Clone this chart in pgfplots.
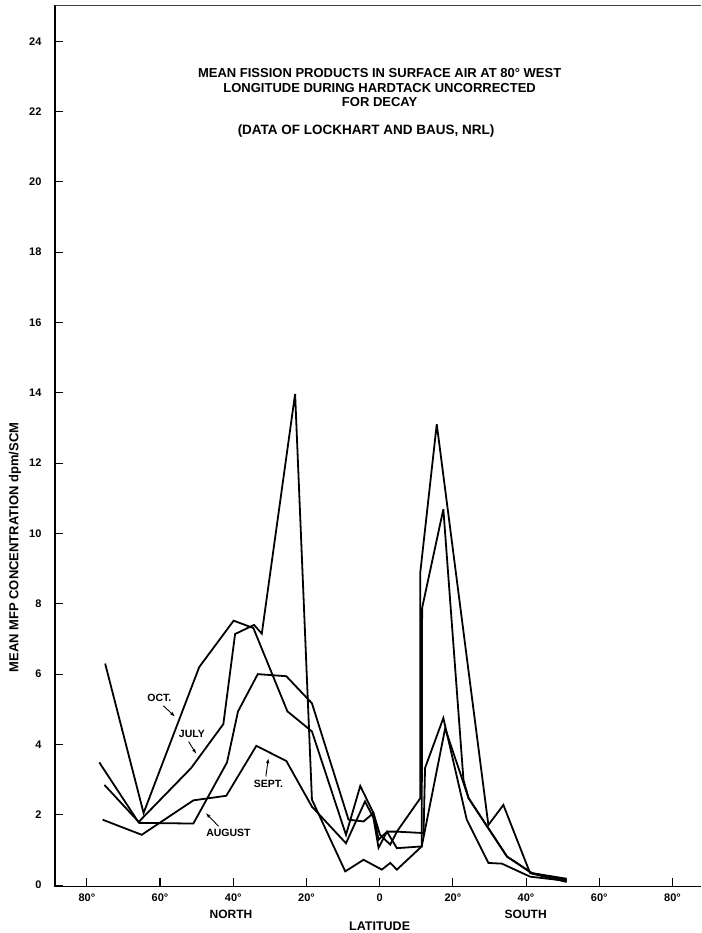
\documentclass[border=0pt]{standalone}
\usepackage{fontspec}
\setmainfont{Liberation Sans}
\usepackage{pgfplots}
\pgfplotsset{compat=1.18}
\usetikzlibrary{arrows.meta}
\tikzset{curve/.style={black, line width=1.8pt, mark=none, line join=miter, miter limit=6}}

\begin{document}
\begin{tikzpicture}
\begin{axis}[
  at={(0,0)}, anchor=south west,
  scale only axis, width=646pt, height=881.5pt,
  xmin=-88.7, xmax=87.8, ymin=-0.04, ymax=25.03,
  axis x line*=bottom, axis y line*=left,
  axis line style={line width=1.5pt, -},
  tick align=inside,
  major tick length=8pt,
  tick style={line width=1.1pt, black},
  xtick={-80,-60,-40,-20,0,20,40,60,80},
  xticklabels={80°,60°,40°,20°,0,20°,40°,60°,80°},
  ytick={0,2,...,24},
  yticklabels={0,2,4,6,8,10,12,14,16,18,20,22,24},
  ticklabel style={font=\bfseries\fontsize{11}{13}\selectfont},
  yticklabel style={xshift=-10pt},
  xticklabel style={yshift=-4pt},
  clip=false,
]
% OCT
\addplot[curve] table {
-75.0 6.30
-64.5 2.05
-49.3 6.20
-39.9 7.52
-34.5 7.31
-25.2 4.94
-18.5 4.37
-9.2 1.43
-5.3 2.82
-1.7 2.05
-0.3 1.29
2.0 1.52
4.7 1.05
11.5 1.10
11.6 7.88
17.4 10.69
22.9 2.99
24.3 2.47
34.8 0.81
41.6 0.34
51.1 0.18
};
% JULY
\addplot[curve] table {
-76.6 3.49
-65.9 1.79
-51.5 3.33
-42.7 4.58
-39.5 7.14
-34.3 7.40
-32.2 7.15
-23.1 13.97
-18.5 2.43
-9.4 0.39
-4.4 0.72
0.6 0.44
2.9 0.63
4.7 0.44
11.5 1.10
17.9 4.46
24.3 2.47
34.8 0.81
41.6 0.34
51.1 0.15
};
% AUGUST
\addplot[curve] table {
-75.2 2.85
-65.6 1.77
-50.9 1.75
-41.7 3.49
-38.7 4.94
-33.3 6.00
-25.5 5.94
-18.5 5.17
-8.5 1.86
-4.4 1.81
-1.7 2.05
0.1 1.43
2.9 1.15
4.7 1.52
12.0 1.48
12.4 3.33
17.4 4.75
23.8 1.86
29.7 0.63
33.4 0.61
41.1 0.24
51.1 0.12
};
% SEPT
\addplot[curve] table {
-75.7 1.86
-65.0 1.43
-50.9 2.41
-41.9 2.54
-33.7 3.96
-25.5 3.53
-18.5 2.23
-9.2 1.19
-4.0 2.38
-1.7 1.91
-0.3 1.06
2.0 1.52
4.7 1.52
11.1 2.47
11.1 8.89
15.6 13.11
29.7 1.71
33.8 2.28
41.1 0.34
51.1 0.09
};
% top frame line
\draw[line width=0.8pt, black!75] (rel axis cs:0,1) -- (rel axis cs:1,1);
% titles
\node[font=\bfseries\fontsize{13}{14.5}\selectfont, align=center] at (axis cs:0,22.68)
  {MEAN FISSION PRODUCTS IN SURFACE AIR AT 80° WEST\\LONGITUDE DURING HARDTACK UNCORRECTED\\FOR DECAY};
\node[font=\bfseries\fontsize{13.5}{15}\selectfont] at (axis cs:-3.7,21.44) {(DATA OF LOCKHART AND BAUS, NRL)};
% y label
\node[rotate=90, font=\bfseries\fontsize{13}{15}\selectfont] at ([xshift=-40pt]axis cs:-88.7,9.6) {MEAN MFP CONCENTRATION dpm/SCM};
% x labels
\node[font=\bfseries\fontsize{12}{14}\selectfont] at ([yshift=-27.5pt]axis cs:-40.6,-0.04) {NORTH};
\node[font=\bfseries\fontsize{12}{14}\selectfont] at ([yshift=-27.5pt]axis cs:39.9,-0.04) {SOUTH};
\node[font=\bfseries\fontsize{12.5}{14}\selectfont] at ([yshift=-39.5pt]axis cs:0,-0.04) {LATITUDE};
% annotations
\node[font=\bfseries\fontsize{10.5}{12}\selectfont] at (axis cs:-60.2,5.32) {OCT.};
\draw[line width=0.9pt, -{Latex[length=5pt,width=3.5pt]}] (axis cs:-59.1,5.10) -- (axis cs:-55.9,4.79);
\node[font=\bfseries\fontsize{10.5}{12}\selectfont] at (axis cs:-51.3,4.29) {JULY};
\draw[line width=0.9pt, -{Latex[length=5pt,width=3.5pt]}] (axis cs:-52.2,4.08) -- (axis cs:-50.1,3.73);
\node[font=\bfseries\fontsize{10.5}{12}\selectfont] at (axis cs:-30.4,2.88) {SEPT.};
\draw[line width=0.9pt, -{Latex[length=5pt,width=3.5pt]}] (axis cs:-31.1,3.09) -- (axis cs:-30.4,3.61);
\node[font=\bfseries\fontsize{10.5}{12}\selectfont] at (axis cs:-41.3,1.48) {AUGUST};
\draw[line width=0.9pt, -{Latex[length=5pt,width=3.5pt]}] (axis cs:-44.0,1.67) -- (axis cs:-47.5,2.05);
\end{axis}
\pgfresetboundingbox
\useasboundingbox (-55pt,-46.5pt) rectangle (646pt,886.5pt);
\end{tikzpicture}
\end{document}
